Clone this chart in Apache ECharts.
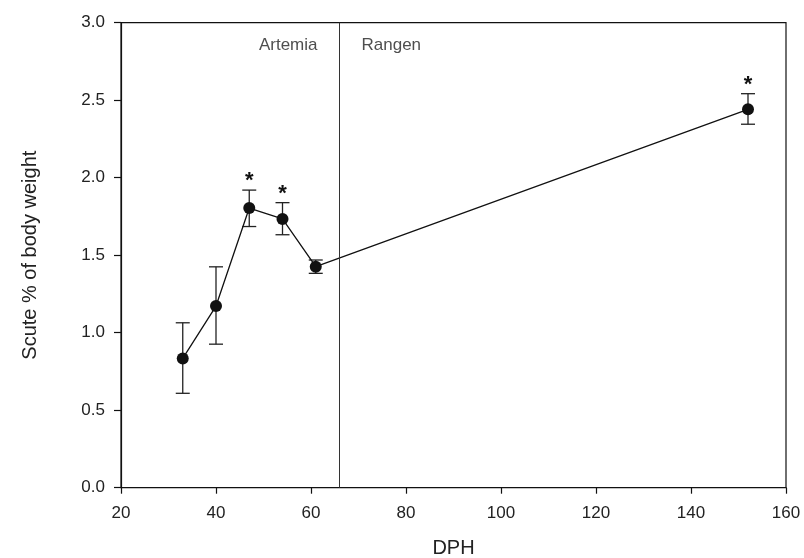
<!DOCTYPE html>
<html>
<head>
<meta charset="utf-8">
<script src="https://cdn.jsdelivr.net/npm/echarts@6/dist/echarts.min.js"></script>
<style>
html,body{margin:0;padding:0;background:#fff;}
#chart{width:804px;height:558px;}
</style>
</head>
<body>
<div id="chart"></div>
<script>
var dph = [33, 40, 47, 54, 61, 152];
var meanVals = [0.834, 1.172, 1.804, 1.734, 1.426, 2.441];
var upperVals = [1.064, 1.425, 1.920, 1.839, 1.469, 2.542];
var lowerVals = [0.609, 0.926, 1.685, 1.632, 1.383, 2.345];
var significant = [false, false, true, true, false, true];
var dietSwitch = 66;
var dietLabels = ['Artemia', 'Rangen'];
var dietLabelY = 2.852;
var xTicks = [20, 40, 60, 80, 100, 120, 140, 160];
var yTicks = ['0.0', '0.5', '1.0', '1.5', '2.0', '2.5', '3.0'];

var FONT = '"Liberation Sans", Arial, sans-serif';
var chart = echarts.init(document.getElementById('chart'));

var lineData = dph.map(function (d, i) { return [d, meanVals[i]]; });
var errData = dph.map(function (d, i) { return [d, lowerVals[i], upperVals[i], significant[i] ? 1 : 0]; });

var option = {
  animation: false,
  backgroundColor: '#fff',
  grid: { left: 121, right: 18, top: 22.7, bottom: 70.3, outerBoundsMode: 'none', containLabel: false, show: true, borderColor: '#111', borderWidth: 1.2, backgroundColor: 'transparent' },
  xAxis: {
    type: 'value', min: xTicks[0], max: xTicks[xTicks.length - 1], interval: 20,
    name: 'DPH', nameLocation: 'middle', nameGap: 51,
    nameTextStyle: { fontFamily: FONT, fontSize: 20, color: '#222' },
    axisLine: { show: true, lineStyle: { color: '#111', width: 1.2 } },
    axisTick: { show: true, inside: false, length: 6, lineStyle: { color: '#111', width: 1.2 } },
    axisLabel: { fontFamily: FONT, fontSize: 17, color: '#222', margin: 17 },
    splitLine: { show: false }
  },
  yAxis: {
    type: 'value', min: 0, max: 3, interval: 0.5,
    name: 'Scute % of body weight', nameLocation: 'middle', nameGap: 81,
    nameTextStyle: { fontFamily: FONT, fontSize: 20, color: '#222' },
    axisLine: { show: true, lineStyle: { color: '#111', width: 1.2 } },
    axisTick: { show: true, inside: false, length: 7, lineStyle: { color: '#111', width: 1.2 } },
    axisLabel: { fontFamily: FONT, fontSize: 17, color: '#222', margin: 16,
      formatter: function (v) { return yTicks[Math.round(v / 0.5)]; } },
    splitLine: { show: false }
  },
  series: [
    {
      type: 'custom',
      z: 3,
      renderItem: function (params, api) {
        var x = api.value(0);
        var lo = api.coord([x, api.value(1)]);
        var hi = api.coord([x, api.value(2)]);
        var hw = 7;
        var st = { stroke: '#222', lineWidth: 1.3 };
        var children = [
          { type: 'line', shape: { x1: lo[0], y1: lo[1], x2: hi[0], y2: hi[1] }, style: st },
          { type: 'line', shape: { x1: lo[0] - hw, y1: lo[1], x2: lo[0] + hw, y2: lo[1] }, style: st },
          { type: 'line', shape: { x1: hi[0] - hw, y1: hi[1], x2: hi[0] + hw, y2: hi[1] }, style: st }
        ];
        if (api.value(3) === 1) {
          children.push({ type: 'text', style: { text: '*', x: hi[0], y: hi[1] + 2, align: 'center', verticalAlign: 'bottom', font: 'bold 22px ' + FONT, fill: '#111' } });
        }
        return { type: 'group', children: children };
      },
      encode: { x: 0, y: [1, 2] },
      data: errData
    },
    {
      type: 'line',
      z: 4,
      data: lineData,
      symbol: 'circle',
      symbolSize: 12,
      itemStyle: { color: '#111' },
      lineStyle: { color: '#111', width: 1.3 },
      markLine: {
        silent: true,
        symbol: ['none', 'none'],
        label: { show: false },
        lineStyle: { color: '#333', width: 1, type: 'solid' },
        data: [{ xAxis: dietSwitch }]
      }
    },
    {
      type: 'scatter',
      symbolSize: 0,
      silent: true,
      data: [
        { value: [dietSwitch, dietLabelY], label: { show: true, position: 'left', distance: 22, formatter: dietLabels[0] } },
        { value: [dietSwitch, dietLabelY], label: { show: true, position: 'right', distance: 22, formatter: dietLabels[1] } }
      ],
      label: { fontFamily: FONT, fontSize: 17, color: '#222' }
    }
  ]
};
chart.setOption(option);
</script>
</body>
</html>
